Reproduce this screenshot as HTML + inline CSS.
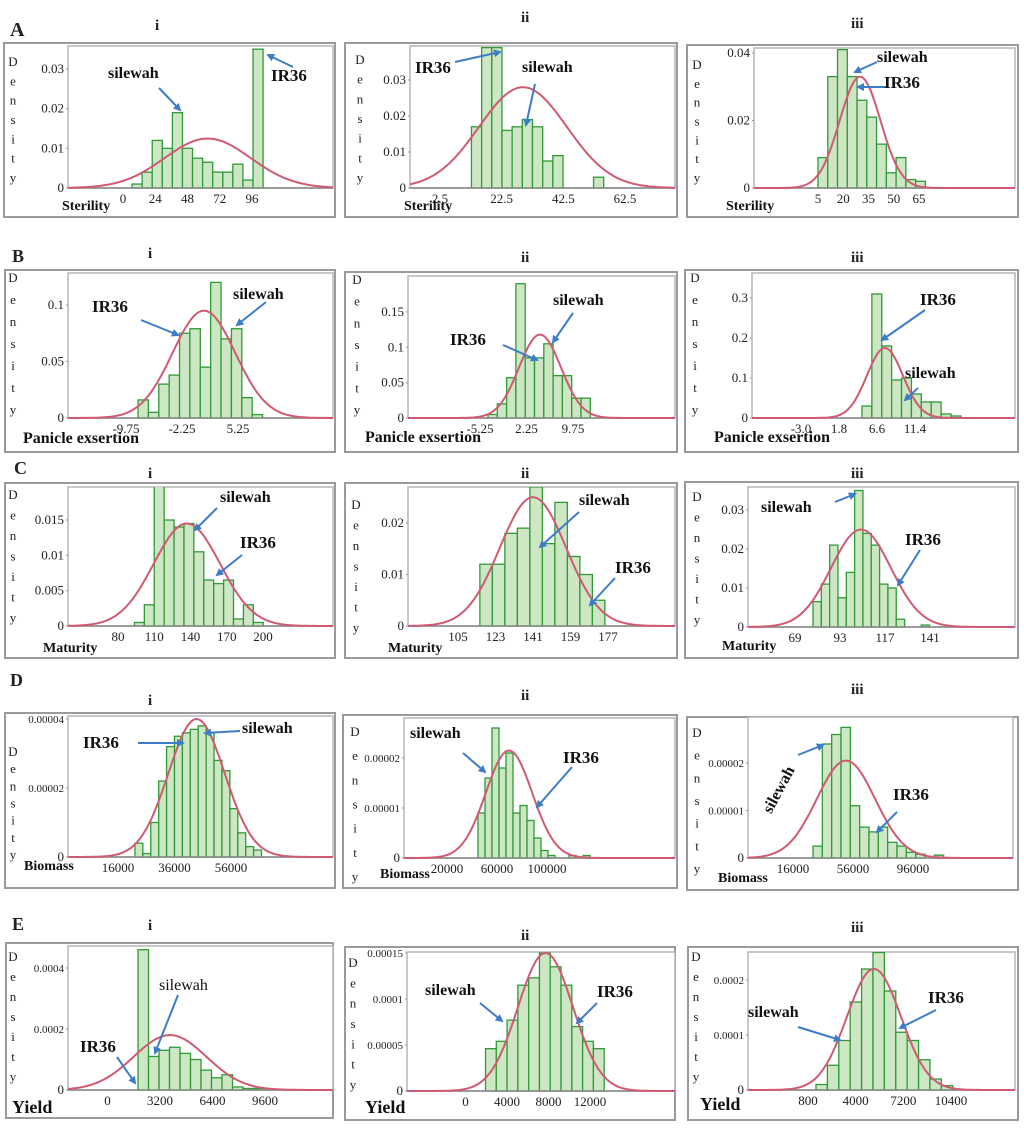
<!DOCTYPE html>
<html><head><meta charset="utf-8">
<style>
html,body{margin:0;padding:0;background:#fff;}
svg{display:block;}
text{font-family:"Liberation Serif",serif;}
</style></head>
<body>
<svg id="fig" width="1024" height="1128" viewBox="0 0 1024 1128" xmlns="http://www.w3.org/2000/svg">
<defs>
<marker id="ah" markerWidth="8" markerHeight="8" refX="6" refY="4" orient="auto" markerUnits="userSpaceOnUse"><path d="M0,0 L8,4 L0,8 z" fill="#3d7cc9"/></marker>
</defs>
</svg>
<script>
// ---- data arrays ----
const A1_heights=[0.001,0.004,0.012,0.010,0.019,0.010,0.0075,0.0065,0.004,0.004,0.006,0.002,0.035];
const A1_bin=[6.75,7.5]; const A1_curve=[63,32];
const A1_xTicks=["0","24","48","72","96"]; const A1_yTicks=["0","0.01","0.02","0.03"];
const A2_heights=[0.017,0.039,0.039,0.016,0.017,0.019,0.017,0.0075,0.009,0,0,0,0.003];
const A2_bin=[12.7,3.3]; const A2_curve=[29.4,14.25];
const A2_xTicks=["2.5","22.5","42.5","62.5"]; const A2_yTicks=["0","0.01","0.02","0.03"];
const A3_heights=[0.009,0.033,0.041,0.033,0.026,0.021,0.013,0.0045,0.009,0.0025,0.002];
const A3_bin=[5,5.8]; const A3_curve=[30,12.1];
const A3_xTicks=["5","20","35","50","65"]; const A3_yTicks=["0","0.02","0.04"];
const B1_heights=[0.016,0.005,0.03,0.038,0.075,0.079,0.045,0.12,0.07,0.079,0.018,0.003];
const B1_bin=[-8.14,1.39]; const B1_curve=[0.69,4.2];
const B1_xTicks=["-9.75","-2.25","5.25"]; const B1_yTicks=["0","0.05","0.1"];
const B2_heights=[0.005,0.02,0.057,0.19,0.085,0.085,0.105,0.06,0.06,0.028,0.028];
const B2_bin=[-3.96,1.5]; const B2_curve=[4.43,3.38];
const B2_xTicks=["-5.25","2.25","9.75"]; const B2_yTicks=["0","0.05","0.1","0.15"];
const B3_heights=[0.03,0.31,0.18,0.095,0.1,0.06,0.04,0.04,0.01,0.005];
const B3_bin=[4.7,1.25]; const B3_curve=[7.6,2.28];
const B3_xTicks=["-3.0","1.8","6.6","11.4"]; const B3_yTicks=["0","0.1","0.2","0.3"];
const C1_heights=[0.0005,0.003,0.02,0.015,0.014,0.0145,0.0105,0.0065,0.006,0.0065,0.001,0.003,0.0005];
const C1_bin=[93.6,8.2]; const C1_curve=[137,27.5];
const C1_xTicks=["80","110","140","170","200"]; const C1_yTicks=["0","0.005","0.01","0.015"];
const C2_heights=[0.012,0.012,0.018,0.019,0.027,0.016,0.024,0.0135,0.01,0.005];
const C2_bin=[115.5,6]; const C2_curve=[141,15.96];
const C2_xTicks=["105","123","141","159","177"]; const C2_yTicks=["0","0.01","0.02"];
const C3_heights=[0.0065,0.011,0.021,0.0075,0.014,0.035,0.024,0.021,0.011,0.01,0.002,0,0,0.0005];
const C3_bin=[78.6,4.44]; const C3_curve=[104.2,15.96];
const C3_xTicks=["69","93","117","141"]; const C3_yTicks=["0","0.01","0.02","0.03"];
const D1_heights=[0.000004,0.000001,0.00001,0.000022,0.000032,0.000035,0.000036,0.000037,0.000038,0.000036,0.000028,0.000025,0.000014,0.000007,0.000003,0.000002];
const D1_bin=[22000,2800]; const D1_curve=[43800,9974];
const D1_xTicks=["16000","36000","56000"]; const D1_yTicks=["0","0.00002","0.00004"];
const D2_heights=[0.000009,0.000016,0.000026,0.000018,0.000021,0.000009,0.0000105,0.0000075,0.000004,0.0000015,0.0000005,0,0,0.0000005,0,0.0000005];
const D2_bin=[44800,5600]; const D2_curve=[69600,18556];
const D2_xTicks=["20000","60000","100000"]; const D2_yTicks=["0","0.00001","0.00002"];
const D3_heights=[0.0000025,0.000024,0.000026,0.0000275,0.000011,0.0000065,0.0000055,0.0000065,0.0000033,0.0000025,0.0000012,0.0000008,0,0.0000006];
const D3_bin=[29333,6222]; const D3_curve=[51300,19460];
const D3_xTicks=["16000","56000","96000"]; const D3_yTicks=["0","0.00001","0.00002"];
const E1_heights=[0.00046,0.00011,0.00013,0.00014,0.00012,0.0001,0.000065,0.00004,0.00005,0.00001,0.000005,0.000005];
const E1_bin=[1860,640]; const E1_curve=[3810,2216];
const E1_xTicks=["0","3200","6400","9600"]; const E1_yTicks=["0","0.0002","0.0004"];
const E2_heights=[0.000046,0.000054,0.000077,0.000115,0.000123,0.00015,0.000135,0.000115,0.00007,0.000054,0.000046];
const E2_bin=[1928,1040]; const E2_curve=[7710,2660];
const E2_xTicks=["0","4000","8000","12000"]; const E2_yTicks=["0","0.00005","0.0001","0.00015"];
const E3_heights=[0.00001,0.000045,0.00009,0.00016,0.00022,0.00025,0.00018,0.000105,0.00009,0.000055,0.00002,0.000008];
const E3_bin=[1337,765]; const E3_curve=[5228,1813];
const E3_xTicks=["800","4000","7200","10400"]; const E3_yTicks=["0","0.0001","0.0002"];

// ---- layout (pixel geometry) ----
const panels=[
 {id:"A1",H:A1_heights,bin:A1_bin,cv:A1_curve,xt:A1_xTicks,yt:A1_yTicks,outer:[4,43,335,217],plot:[68,46,333,188],xm:[0,123,96,252],yv:[0.03,69],lx:13,ly:[62,178],xl:["Sterility",62,210,14],
  ann:[["silewah",108,78,1,159,88,180,110],["IR36",271,81,1,293,67,268,55]]},
 {id:"A2",H:A2_heights,bin:A2_bin,cv:A2_curve,xt:A2_xTicks,yt:A2_yTicks,outer:[345,43,677,217],plot:[410,46,675,188],xm:[2.5,440,62.5,625],yv:[0.03,80],lx:360,ly:[60,178],xl:["Sterility",404,210,14],
  ann:[["IR36",415,73,1,455,62,500,52],["silewah",522,72,1,535,84,526,125]]},
 {id:"A3",H:A3_heights,bin:A3_bin,cv:A3_curve,xt:A3_xTicks,yt:A3_yTicks,outer:[687,45,1018,217],plot:[754,48,1015,188],xm:[5,818,65,919],yv:[0.04,53],lx:697,ly:[65,178],xl:["Sterility",726,210,14],
  ann:[["silewah",877,62,1,877,62,855,72],["IR36",884,88,1,886,87,858,87]]},
 {id:"B1",H:B1_heights,bin:B1_bin,cv:B1_curve,xt:B1_xTicks,yt:B1_yTicks,outer:[5,270,335,452],plot:[68,273,333,418],xm:[-9.75,126,5.25,238],yv:[0.1,305],lx:13,ly:[278,410],xl:["Panicle exsertion",23,443,16],
  ann:[["IR36",92,312,1,141,320,178,335],["silewah",233,299,1,266,302,237,325]]},
 {id:"B2",H:B2_heights,bin:B2_bin,cv:B2_curve,xt:B2_xTicks,yt:B2_yTicks,outer:[345,272,677,452],plot:[408,276,675,418],xm:[-5.25,480,9.75,573],yv:[0.15,312],lx:357,ly:[280,410],xl:["Panicle exsertion",365,442,16],
  ann:[["silewah",553,305,1,573,313,553,342],["IR36",450,345,1,503,345,537,360]]},
 {id:"B3",H:B3_heights,bin:B3_bin,cv:B3_curve,xt:B3_xTicks,yt:B3_yTicks,outer:[685,270,1018,452],plot:[752,273,1015,418],xm:[-3,801,11.4,915],yv:[0.3,298],lx:695,ly:[278,410],xl:["Panicle exsertion",714,442,16],
  ann:[["IR36",920,305,1,925,310,882,340],["silewah",905,378,1,918,388,905,400]]},
 {id:"C1",H:C1_heights,bin:C1_bin,cv:C1_curve,xt:C1_xTicks,yt:C1_yTicks,outer:[5,483,335,658],plot:[68,487,333,626],xm:[80,118,200,263],yv:[0.015,520],lx:13,ly:[495,618],xl:["Maturity",43,652,14],
  ann:[["silewah",220,502,1,217,508,195,530],["IR36",240,548,1,242,555,217,575]]},
 {id:"C2",H:C2_heights,bin:C2_bin,cv:C2_curve,xt:C2_xTicks,yt:C2_yTicks,outer:[345,483,677,658],plot:[408,487,675,626],xm:[105,458,177,608],yv:[0.02,523],lx:356,ly:[505,628],xl:["Maturity",388,652,14],
  ann:[["silewah",579,505,1,579,512,540,547],["IR36",615,573,1,615,578,590,605]]},
 {id:"C3",H:C3_heights,bin:C3_bin,cv:C3_curve,xt:C3_xTicks,yt:C3_yTicks,outer:[685,482,1018,658],plot:[748,487,1015,627],xm:[69,795,141,930],yv:[0.03,510],lx:697,ly:[497,620],xl:["Maturity",722,650,14],
  ann:[["silewah",761,512,1,835,502,855,494],["IR36",905,545,1,920,550,898,585]]},
 {id:"D1",H:D1_heights,bin:D1_bin,cv:D1_curve,xt:D1_xTicks,yt:D1_yTicks,outer:[5,713,335,888],plot:[68,716,333,857],xm:[16000,118,56000,231],yv:[0.00002,788],lx:13,ly:[752,855],xl:["Biomass",24,870,14],
  ann:[["IR36",83,748,1,138,743,183,743],["silewah",242,733,1,240,731,205,733]]},
 {id:"D2",H:D2_heights,bin:D2_bin,cv:D2_curve,xt:D2_xTicks,yt:D2_yTicks,outer:[343,715,677,888],plot:[404,718,675,858],xm:[20000,447,100000,547],yv:[0.00001,808],lx:355,ly:[732,877],xl:["Biomass",380,878,14],
  ann:[["silewah",410,738,1,463,753,485,772],["IR36",563,763,1,572,767,537,807]]},
 {id:"D3",H:D3_heights,bin:D3_bin,cv:D3_curve,xt:D3_xTicks,yt:D3_yTicks,outer:[687,717,1018,890],plot:[748,717,1013,858],xm:[16000,793,96000,913],yv:[0.00002,763],lx:697,ly:[733,869],xl:["Biomass",718,882,14],
  ann:[["silewah",783,792,2,798,755,823,745],["IR36",893,800,1,897,812,877,832]]},
 {id:"E1",H:E1_heights,bin:E1_bin,cv:E1_curve,xt:E1_xTicks,yt:E1_yTicks,outer:[6,943,333,1118],plot:[68,946,333,1090],xm:[3200,160,9600,265],yv:[0.0002,1029],lx:13,ly:[957,1077],xl:["Yield",12,1113,18],
  ann:[["silewah",159,990,0,178,995,155,1053],["IR36",80,1052,1,117,1057,135,1083]]},
 {id:"E2",H:E2_heights,bin:E2_bin,cv:E2_curve,xt:E2_xTicks,yt:E2_yTicks,outer:[345,947,675,1120],plot:[407,952,675,1091],xm:[4000,507,12000,590],yv:[0.00015,953],lx:353,ly:[963,1085],xl:["Yield",365,1113,18],
  ann:[["silewah",425,995,1,480,1003,502,1021],["IR36",597,997,1,597,1003,577,1023]]},
 {id:"E3",H:E3_heights,bin:E3_bin,cv:E3_curve,xt:E3_xTicks,yt:E3_yTicks,outer:[688,947,1018,1120],plot:[748,952,1015,1090],xm:[800,808,10400,951],yv:[0.0001,1035],lx:696,ly:[957,1077],xl:["Yield",700,1110,18],
  ann:[["silewah",748,1017,1,798,1027,840,1040],["IR36",928,1003,1,936,1010,900,1028]]}
];
const titles=[["A",10,36,20],["i",155,30,15],["ii",521,22,15],["iii",851,28,15],
 ["B",12,262,18],["i",148,258,15],["ii",521,262,15],["iii",851,262,15],
 ["C",14,474,18],["i",148,478,15],["ii",521,478,15],["iii",851,478,15],
 ["D",10,686,18],["i",148,705,15],["ii",521,700,15],["iii",851,694,15],
 ["E",12,930,18],["i",148,930,15],["ii",521,940,15],["iii",851,932,15]];

const NS="http://www.w3.org/2000/svg";
const svg=document.getElementById('fig');
function mk(tag,attrs,parent){const e=document.createElementNS(NS,tag);for(const k in attrs)e.setAttribute(k,attrs[k]);(parent||svg).appendChild(e);return e;}

titles.forEach(t=>{
  const e=mk('text',{x:t[1],y:t[2],'font-size':t[3],'font-weight':'bold',fill:'#222'});
  e.textContent=t[0];
  
  
});

panels.forEach(p=>{
  const g=mk('g',{});
  
  
  const [ox0,oy0,ox1,oy1]=p.outer,[pl,pt,pr,pb]=p.plot;
  const xS=v=>p.xm[1]+(v-p.xm[0])*(p.xm[3]-p.xm[1])/(p.xm[2]-p.xm[0]);
  const yS=v=>pb-v*(pb-p.yv[1])/p.yv[0];
  const outer=mk('rect',{x:ox0,y:oy0,width:ox1-ox0,height:oy1-oy0,fill:'#fff',stroke:'#9a9a9a','stroke-width':2},g);
  
  
  const plot=mk('rect',{x:pl,y:pt,width:pr-pl,height:pb-pt,fill:'#fff',stroke:'#b5b5b5','stroke-width':1.5},g);
  
  
  const cid='clip'+p.id;
  const cp=mk('clipPath',{id:cid},g); mk('rect',{x:pl,y:pt,width:pr-pl,height:pb-pt+1},cp);
  const bars=mk('g',{'clip-path':'url(#'+cid+')'},g);
  
  
  p.H.forEach((h,i)=>{
    if(h<=0)return;
    const x0=xS(p.bin[0]+i*p.bin[1]),x1=xS(p.bin[0]+(i+1)*p.bin[1]);
    const r=mk('rect',{x:x0,y:yS(h),width:x1-x0,height:pb-yS(h),fill:'#cde6c4',stroke:'#2f9a37','stroke-width':1.3},bars);
    
    
  });
  const bl=mk('line',{x1:pl,y1:pb,x2:pr,y2:pb,stroke:'#888','stroke-width':1.5},g);
  
  
  const [mu,sd]=p.cv; let d='';
  for(let k=0;k<=200;k++){const px=pl+(pr-pl)*k/200;
    const v=p.xm[0]+(px-p.xm[1])*(p.xm[2]-p.xm[0])/(p.xm[3]-p.xm[1]);
    const dens=Math.exp(-0.5*Math.pow((v-mu)/sd,2))/(sd*Math.sqrt(2*Math.PI));
    d+=(k?'L':'M')+px.toFixed(1)+','+yS(dens).toFixed(1);}
  const c=mk('path',{d:d,fill:'none',stroke:'#cf5a72','stroke-width':2,'clip-path':'url(#'+cid+')'},g);
  
  
  p.yt.forEach(s=>{const v=parseFloat(s),y=yS(v);
    const small=s.length>5;
    const t=mk('text',{x:pl-4,y:y+4,'font-size':small?11:13,'text-anchor':'end',fill:'#222'},g);
    t.textContent=s;
    
    
    mk('line',{x1:pl-2,y1:y,x2:pl,y2:y,stroke:'#999'},g);
  });
  p.xt.forEach(s=>{const v=parseFloat(s),x=xS(v);
    const t=mk('text',{x:x,y:pb+15,'font-size':13,'text-anchor':'middle',fill:'#222'},g);
    t.textContent=s;
    
    
  });
  const letters="Density".split('');
  const yl=mk('text',{'font-size':13,fill:'#222','text-anchor':'middle'},g);
  
  
  letters.forEach((ch,i)=>{const ts=mk('tspan',{x:p.lx,y:p.ly[0]+(p.ly[1]-p.ly[0])*i/6+4},yl);ts.textContent=ch;});
  const xl=mk('text',{x:p.xl[1],y:p.xl[2],'font-size':p.xl[3],'font-weight':'bold',fill:'#111'},g);
  xl.textContent=p.xl[0];
  
  
  p.ann.forEach(a=>{
    const ln=mk('line',{x1:a[4],y1:a[5],x2:a[6],y2:a[7],stroke:'#3d7cc9','stroke-width':2,'marker-end':'url(#ah)'},g);
    
    
    const attrs={x:a[1],y:a[2],'font-size':a[0]==='IR36'?17:16,'font-weight':a[3]?'bold':'normal',fill:'#111'};
    if(a[3]===2){attrs['text-anchor']='middle';attrs.transform='rotate(-62 '+a[1]+' '+a[2]+')';}
    const t=mk('text',attrs,g);
    t.textContent=a[0];
    
    
  });
});
</script>
</body></html>
